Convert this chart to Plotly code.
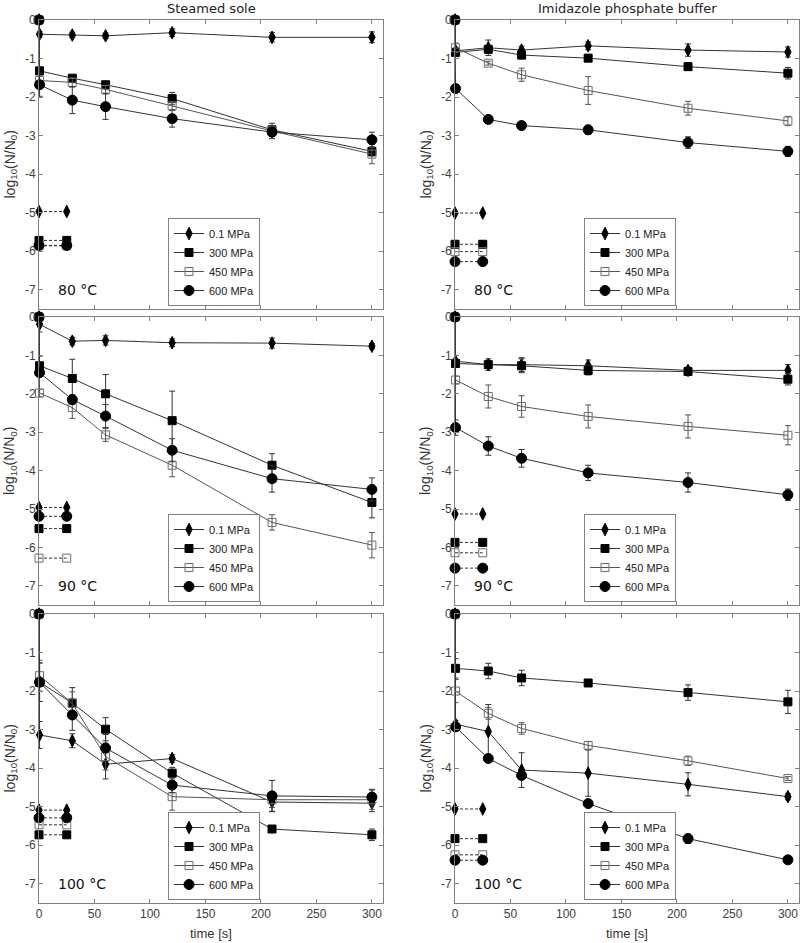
import plotly.graph_objects as go

# time points [s]; the second 0 is the sample taken right after pressure come-up
times = [0, 0.5, 30, 60, 120, 210, 300]
dl_times = [0, 25]
pressures = ['0.1 MPa', '300 MPa', '450 MPa', '600 MPa']
y_ticks = [-7, -6, -5, -4, -3, -2, -1, 0]
y_ticklabels = ['-7', '-6', '-5', '-4', '-3', '-2', '-1', '0']
x_ticks = [0, 50, 100, 150, 200, 250, 300]

# log10(N/N0) per pressure (0.1, 300, 450, 600 MPa), error bars, detection limits
sole_80 = [[0, -0.37, -0.39, -0.41, -0.33, -0.45, -0.45],
           [0, -1.32, -1.51, -1.68, -2.04, -2.85, -3.41],
           [0, -1.57, -1.62, -1.80, -2.23, -2.88, -3.48],
           [0, -1.68, -2.08, -2.25, -2.56, -2.91, -3.11]]
sole_80_err = [[0, 0.08, 0.07, 0.07, 0.10, 0.12, 0.14],
               [0, 0.10, 0.06, 0.06, 0.16, 0.17, 0.12],
               [0, 0.12, 0.12, 0.10, 0.10, 0.12, 0.25],
               [0, 0.30, 0.35, 0.33, 0.22, 0.17, 0.20]]
sole_80_lim = [-4.97, -5.72, -5.86, -5.85]

imid_80 = [[0, -0.80, -0.72, -0.78, -0.67, -0.78, -0.83],
           [0, -0.84, -0.76, -0.91, -0.99, -1.21, -1.38],
           [0, -0.72, -1.12, -1.42, -1.83, -2.29, -2.62],
           [0, -1.78, -2.58, -2.74, -2.85, -3.18, -3.41]]
imid_80_err = [[0, 0.10, 0.20, 0.10, 0.10, 0.16, 0.13],
               [0, 0.10, 0.10, 0.10, 0.08, 0.10, 0.15],
               [0, 0.12, 0.05, 0.17, 0.36, 0.18, 0.12],
               [0, 0.05, 0.05, 0.06, 0.12, 0.15, 0.13]]
imid_80_lim = [-5.01, -5.82, -6.01, -6.27]

sole_90 = [[0, -0.19, -0.63, -0.61, -0.67, -0.68, -0.76],
           [0, -1.27, -1.60, -2.00, -2.70, -3.86, -4.83],
           [0, -1.98, -2.36, -3.07, -3.86, -5.35, -5.94],
           [0, -1.45, -2.15, -2.58, -3.47, -4.21, -4.49]]
sole_90_err = [[0, 0.20, 0.10, 0.12, 0.10, 0.13, 0.07],
               [0, 0.25, 0.50, 0.50, 0.77, 0.30, 0.40],
               [0, 0.10, 0.28, 0.17, 0.30, 0.20, 0.33],
               [0, 0.10, 0.12, 0.30, 0.30, 0.35, 0.30]]
sole_90_lim = [-4.96, -5.51, -6.28, -5.19]

imid_90 = [[0, -1.15, -1.24, -1.24, -1.27, -1.39, -1.39],
           [0, -1.21, -1.24, -1.27, -1.39, -1.42, -1.62],
           [0, -1.64, -2.07, -2.33, -2.59, -2.85, -3.08],
           [0, -2.88, -3.36, -3.68, -4.06, -4.31, -4.63]]
imid_90_err = [[0, 0.15, 0.15, 0.18, 0.15, 0.08, 0.15],
               [0, 0.10, 0.10, 0.18, 0.12, 0.10, 0.15],
               [0, 0.10, 0.30, 0.28, 0.30, 0.30, 0.25],
               [0, 0.20, 0.24, 0.23, 0.20, 0.25, 0.15]]
imid_90_lim = [-5.13, -5.87, -6.14, -6.54]

sole_100 = [[0, -3.14, -3.29, -3.90, -3.75, -4.88, -4.91],
            [0, -1.77, -2.31, -2.99, -4.13, -5.58, -5.73],
            [0, -1.60, -2.32, -3.70, -4.74, -4.82, -4.82],
            [0, -1.77, -2.62, -3.48, -4.44, -4.72, -4.75]]
sole_100_err = [[0, 0.35, 0.18, 0.38, 0.10, 0.25, 0.22],
                [0, 0.50, 0.40, 0.30, 0.15, 0.08, 0.15],
                [0, 0.40, 0.30, 0.35, 0.35, 0.20, 0.25],
                [0, 0.50, 0.40, 0.35, 0.20, 0.40, 0.20]]
sole_100_lim = [-5.09, -5.73, -5.47, -5.29]

imid_100 = [[0, -2.86, -3.05, -4.05, -4.13, -4.42, -4.74],
            [0, -1.41, -1.48, -1.66, -1.79, -2.04, -2.28],
            [0, -2.00, -2.58, -2.97, -3.41, -3.81, -4.27],
            [0, -2.93, -3.75, -4.19, -4.92, -5.83, -6.38]]
imid_100_err = [[0, 0.10, 0.70, 0.45, 0.60, 0.30, 0.08],
                [0, 0.25, 0.20, 0.20, 0.05, 0.20, 0.30],
                [0, 0.30, 0.15, 0.15, 0.10, 0.12, 0.05],
                [0, 0.10, 0.05, 0.10, 0.05, 0.12, 0.05]]
imid_100_lim = [-5.06, -5.83, -6.25, -6.39]

panels = [
    (sole_80, sole_80_err, sole_80_lim, '80 °C'),
    (imid_80, imid_80_err, imid_80_lim, '80 °C'),
    (sole_90, sole_90_err, sole_90_lim, '90 °C'),
    (imid_90, imid_90_err, imid_90_lim, '90 °C'),
    (sole_100, sole_100_err, sole_100_lim, '100 °C'),
    (imid_100, imid_100_err, imid_100_lim, '100 °C'),
]

symbols = ['diamond-tall', 'square', 'square-open', 'circle']
sizes = [9, 8, 8, 10]
mcolors = ['black', 'black', '#6e6e6e', 'black']
lcolors = ['#333333', '#333333', '#555555', '#333333']

W, H = 800, 943
col_x = [(39, 383), (455, 799)]
row_y = [(20, 309), (317, 605), (614, 903)]

fig = go.Figure()
layout = dict(width=W, height=H, margin=dict(l=0, r=0, t=0, b=0, autoexpand=False),
              plot_bgcolor='white', paper_bgcolor='white', showlegend=True)
annotations = []

axis_common = dict(showline=True, linecolor='#7f7f7f', linewidth=1, mirror='ticks',
                   ticks='inside', ticklen=4, tickcolor='#7f7f7f', showgrid=False,
                   zeroline=False, automargin=False,
                   tickfont=dict(family='Liberation Sans', size=12, color='#404040'))

for i, (vals, errs, lims, temp) in enumerate(panels):
    r, c = divmod(i, 2)
    n = i + 1
    xa = 'x' if n == 1 else f'x{n}'
    ya = 'y' if n == 1 else f'y{n}'
    lg = 'legend' if n == 1 else f'legend{n}'
    x0, x1 = col_x[c]
    y0, y1 = row_y[r]
    layout['xaxis' if n == 1 else f'xaxis{n}'] = dict(
        axis_common, domain=[x0 / W, x1 / W], range=[0, 310], anchor=ya,
        tickvals=x_ticks, showticklabels=(r == 2))
    layout['yaxis' if n == 1 else f'yaxis{n}'] = dict(
        axis_common, domain=[1 - y1 / H, 1 - y0 / H], range=[-7.5, 0], anchor=xa,
        tickvals=y_ticks, ticktext=y_ticklabels)
    layout[lg] = dict(x=(x0 + 129) / W, y=1 - (y1 - 47) / H, xanchor='left', yanchor='middle',
                      bgcolor='white', bordercolor='#7f7f7f', borderwidth=1,
                      font=dict(family='Liberation Sans', size=11, color='#222222'),
                      tracegroupgap=0, itemwidth=30)

    for k in range(4):
        # detection limit (dashed)
        fig.add_trace(go.Scatter(
            x=dl_times, y=[lims[k], lims[k]], xaxis=xa, yaxis=ya, mode='lines+markers',
            line=dict(color='#333333', width=1, dash='3px,2px'),
            marker=dict(symbol=symbols[k], size=sizes[k], color=mcolors[k],
                        line=dict(color=mcolors[k], width=1)),
            showlegend=False, cliponaxis=False, hoverinfo='skip'))
    for k in range(4):
        fig.add_trace(go.Scatter(
            x=times, y=vals[k], xaxis=xa, yaxis=ya, mode='lines+markers', name=pressures[k],
            legend=lg, line=dict(color=lcolors[k], width=1),
            marker=dict(symbol=symbols[k], size=sizes[k], color=mcolors[k],
                        line=dict(color=mcolors[k], width=1)),
            error_y=dict(type='data', array=errs[k], color=lcolors[k], thickness=1, width=3),
            cliponaxis=False))

    annotations.append(dict(x=(x0 + 17) / W, y=1 - (y1 - 19) / H, xref='paper', yref='paper',
                            text=temp, showarrow=False, xanchor='left', yanchor='middle',
                            font=dict(family='DejaVu Sans', size=14, color='#111111')))
    annotations.append(dict(x=(x0 - 29) / W, y=1 - (y0 + y1) / 2 / H, xref='paper', yref='paper',
                            text='log<sub>10</sub>(N/N<sub>0</sub>)', showarrow=False,
                            textangle=-90, xanchor='center', yanchor='middle',
                            font=dict(family='Liberation Sans', size=14, color='#333333')))

for c, title in enumerate(['Steamed sole', 'Imidazole phosphate buffer']):
    x0, x1 = col_x[c]
    annotations.append(dict(x=(x0 + x1) / 2 / W, y=1 - 8 / H, xref='paper', yref='paper',
                            text=title, showarrow=False, xanchor='center', yanchor='middle',
                            font=dict(family='DejaVu Sans', size=13, color='#222222')))
    annotations.append(dict(x=(x0 + x1) / 2 / W, y=1 - 933 / H, xref='paper', yref='paper',
                            text='time [s]', showarrow=False, xanchor='center', yanchor='middle',
                            font=dict(family='Liberation Sans', size=13, color='#333333')))

layout['annotations'] = annotations
fig.update_layout(**layout)
# drop the browser's default 8px body margin so the figure sits at the window's corner
fig.write_html("out.html", config={'displayModeBar': False},
               post_script="document.body.style.margin='0';")
